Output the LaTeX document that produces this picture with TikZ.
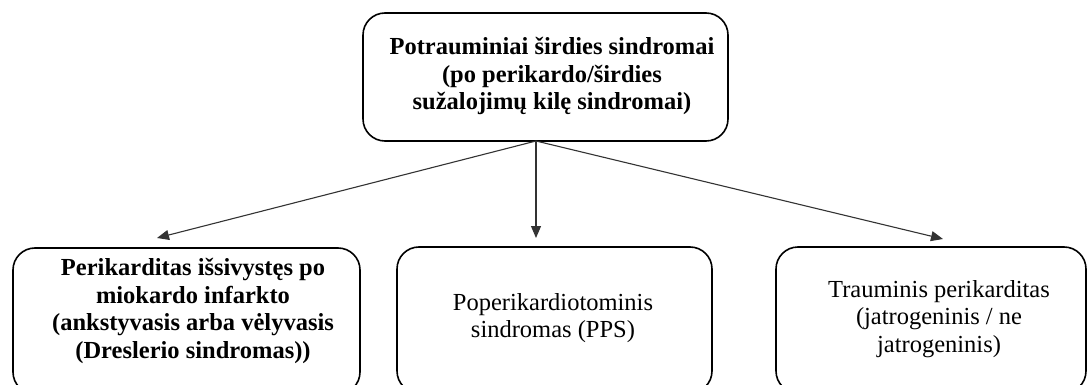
\documentclass[tikz,border=0pt]{standalone}
\usepackage{fontspec}
\setmainfont{Liberation Serif}
\usetikzlibrary{arrows.meta}
\begin{document}
\begin{tikzpicture}[x=1pt,y=-1pt,
  box/.style={draw=black, line width=1.6pt, rounded corners=22pt, inner sep=0pt},
  txt/.style={align=center, inner sep=0pt, font=\fontsize{24.5}{27.5}\selectfont},
  btxt/.style={txt, font=\fontsize{24.5}{27.5}\selectfont\bfseries},
  conn/.style={draw=black!80, line width=1.1pt, -{Triangle[length=12pt,width=10pt]}}]
\useasboundingbox (0,0) rectangle (1087,385);
\clip (0,0) rectangle (1087,385);
\fill[white] (0,0) rectangle (1087,385);
% top box
\node[box, minimum width=365pt, minimum height=128pt] (top) at (545.5,77) {};
\node[btxt] (toptxt) at (552,76) {Potrauminiai širdies sindromai\\(po perikardo/širdies\\sužalojimų kilę sindromai)};
% bottom boxes
\node[box, minimum width=347pt, minimum height=146pt] (lb) at (186.5,321) {};
\node[btxt] (lbtxt) at (193,311) {Perikarditas išsivystęs po\\miokardo infarkto\\(ankstyvasis arba vėlyvasis\\(Dreslerio sindromas))};
\node[box, minimum width=315pt, minimum height=146pt] (mb) at (554.5,320) {};
\node[txt] (mbtxt) at (553,318) {Poperikardiotominis\\sindromas (PPS)};
\node[box, minimum width=310pt, minimum height=146pt] (rb) at (931,320) {};
\node[txt] (rbtxt) at (939,319) {Trauminis perikarditas\\(jatrogeninis / ne\\jatrogeninis)};
% connectors
\coordinate (o) at (536,141);
\coordinate (tl) at (157,238);
\coordinate (tm) at (536,238);
\coordinate (tr) at (943,239);
\draw[conn] (o) -- (tl);
\draw[conn] (o) -- (tm);
\draw[conn] (o) -- (tr);
\end{tikzpicture}
\end{document}
